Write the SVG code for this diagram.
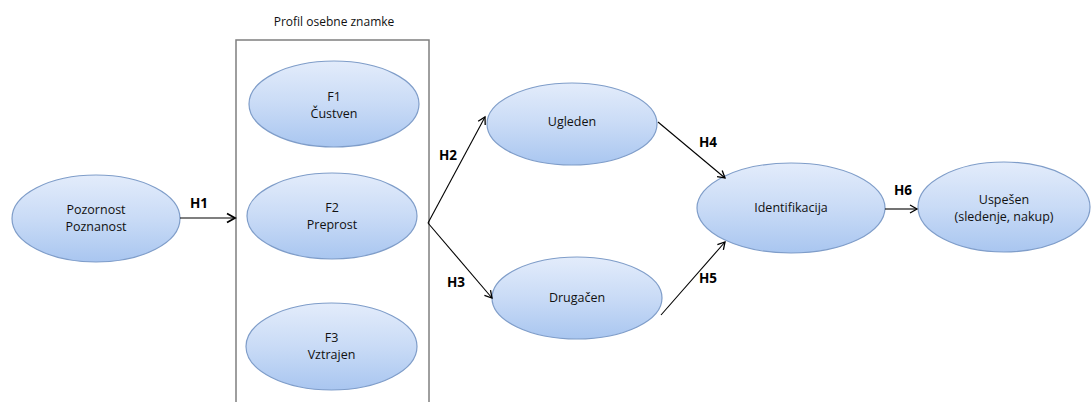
<svg xmlns="http://www.w3.org/2000/svg" width="1092" height="402" viewBox="0 0 1092 402">
<defs>
<linearGradient id="g" x1="0" y1="0" x2="0" y2="1">
<stop offset="0" stop-color="#e3ecfb"/>
<stop offset="0.5" stop-color="#c9dbf6"/>
<stop offset="1" stop-color="#a9c6f0"/>
</linearGradient>
<marker id="ah" markerWidth="10" markerHeight="10" refX="8" refY="5" orient="auto" markerUnits="userSpaceOnUse">
<path d="M1,1 L8,5 L1,9" fill="none" stroke="#000" stroke-width="1.3"/>
</marker>
<marker id="ah2" markerWidth="12" markerHeight="12" refX="10" refY="6" orient="auto" markerUnits="userSpaceOnUse">
<path d="M2,1.5 L10,6 L2,10.5" fill="none" stroke="#000" stroke-width="1.8"/>
</marker>
</defs>
<style>
.n{fill:url(#g);stroke:#7f9dc9;stroke-width:1.2}
.t{font-family:"Open Sans","Liberation Sans",sans-serif;font-size:12.5px;fill:#111;text-anchor:middle}
.h{font-family:"Open Sans","Liberation Sans",sans-serif;font-size:13.5px;font-weight:bold;fill:#000;text-anchor:middle}
.c{fill:none;stroke:#000;stroke-width:1.1}
</style>
<rect width="1092" height="402" fill="#fff"/>
<g id="group">
<rect x="236" y="40" width="193" height="370" fill="none" stroke="#7f7f7f" stroke-width="1.5"/>
<text class="t" x="334" y="26" style="font-size:12px">Profil osebne znamke</text>
</g>
<g id="pozornost"><ellipse class="n" cx="96" cy="218.5" rx="84" ry="43.5"/><text class="t" x="96" y="214">Pozornost</text><text class="t" x="96" y="231">Poznanost</text></g>
<g id="f1"><ellipse class="n" cx="334" cy="104" rx="85" ry="43"/><text class="t" x="334" y="101">F1</text><text class="t" x="334" y="118">Čustven</text></g>
<g id="f2"><ellipse class="n" cx="332" cy="216" rx="85" ry="43"/><text class="t" x="332" y="212">F2</text><text class="t" x="332" y="229">Preprost</text></g>
<g id="f3"><ellipse class="n" cx="331.5" cy="346.5" rx="85.5" ry="43.5"/><text class="t" x="331.5" y="342">F3</text><text class="t" x="331.5" y="359">Vztrajen</text></g>
<g id="ugleden"><ellipse class="n" cx="572" cy="124" rx="85" ry="41"/><text class="t" x="572" y="126">Ugleden</text></g>
<g id="drugacen"><ellipse class="n" cx="577" cy="298" rx="85" ry="41"/><text class="t" x="577" y="302">Drugačen</text></g>
<g id="identifikacija"><ellipse class="n" cx="791" cy="208" rx="94" ry="45"/><text class="t" x="791" y="212">Identifikacija</text></g>
<g id="uspesen"><ellipse class="n" cx="1004" cy="207" rx="86" ry="45"/><text class="t" x="1004" y="204">Uspešen</text><text class="t" x="1004" y="221">(sledenje, nakup)</text></g>
<g id="connectors">
<line class="c" x1="180" y1="218" x2="235" y2="218" stroke-width="2" marker-end="url(#ah2)"/>
<line class="c" x1="428" y1="223" x2="485" y2="117" marker-end="url(#ah)"/>
<line class="c" x1="428" y1="223" x2="492" y2="298" marker-end="url(#ah)"/>
<line class="c" x1="658" y1="122" x2="725" y2="178" marker-end="url(#ah)"/>
<line class="c" x1="661" y1="315" x2="725" y2="242" marker-end="url(#ah)"/>
<line class="c" x1="885" y1="209" x2="917" y2="209" marker-end="url(#ah)"/>
<text class="h" x="199" y="208">H1</text>
<text class="h" x="448" y="160">H2</text>
<text class="h" x="456" y="287">H3</text>
<text class="h" x="708" y="147">H4</text>
<text class="h" x="708" y="283">H5</text>
<text class="h" x="903" y="195">H6</text>
</g>
</svg>
